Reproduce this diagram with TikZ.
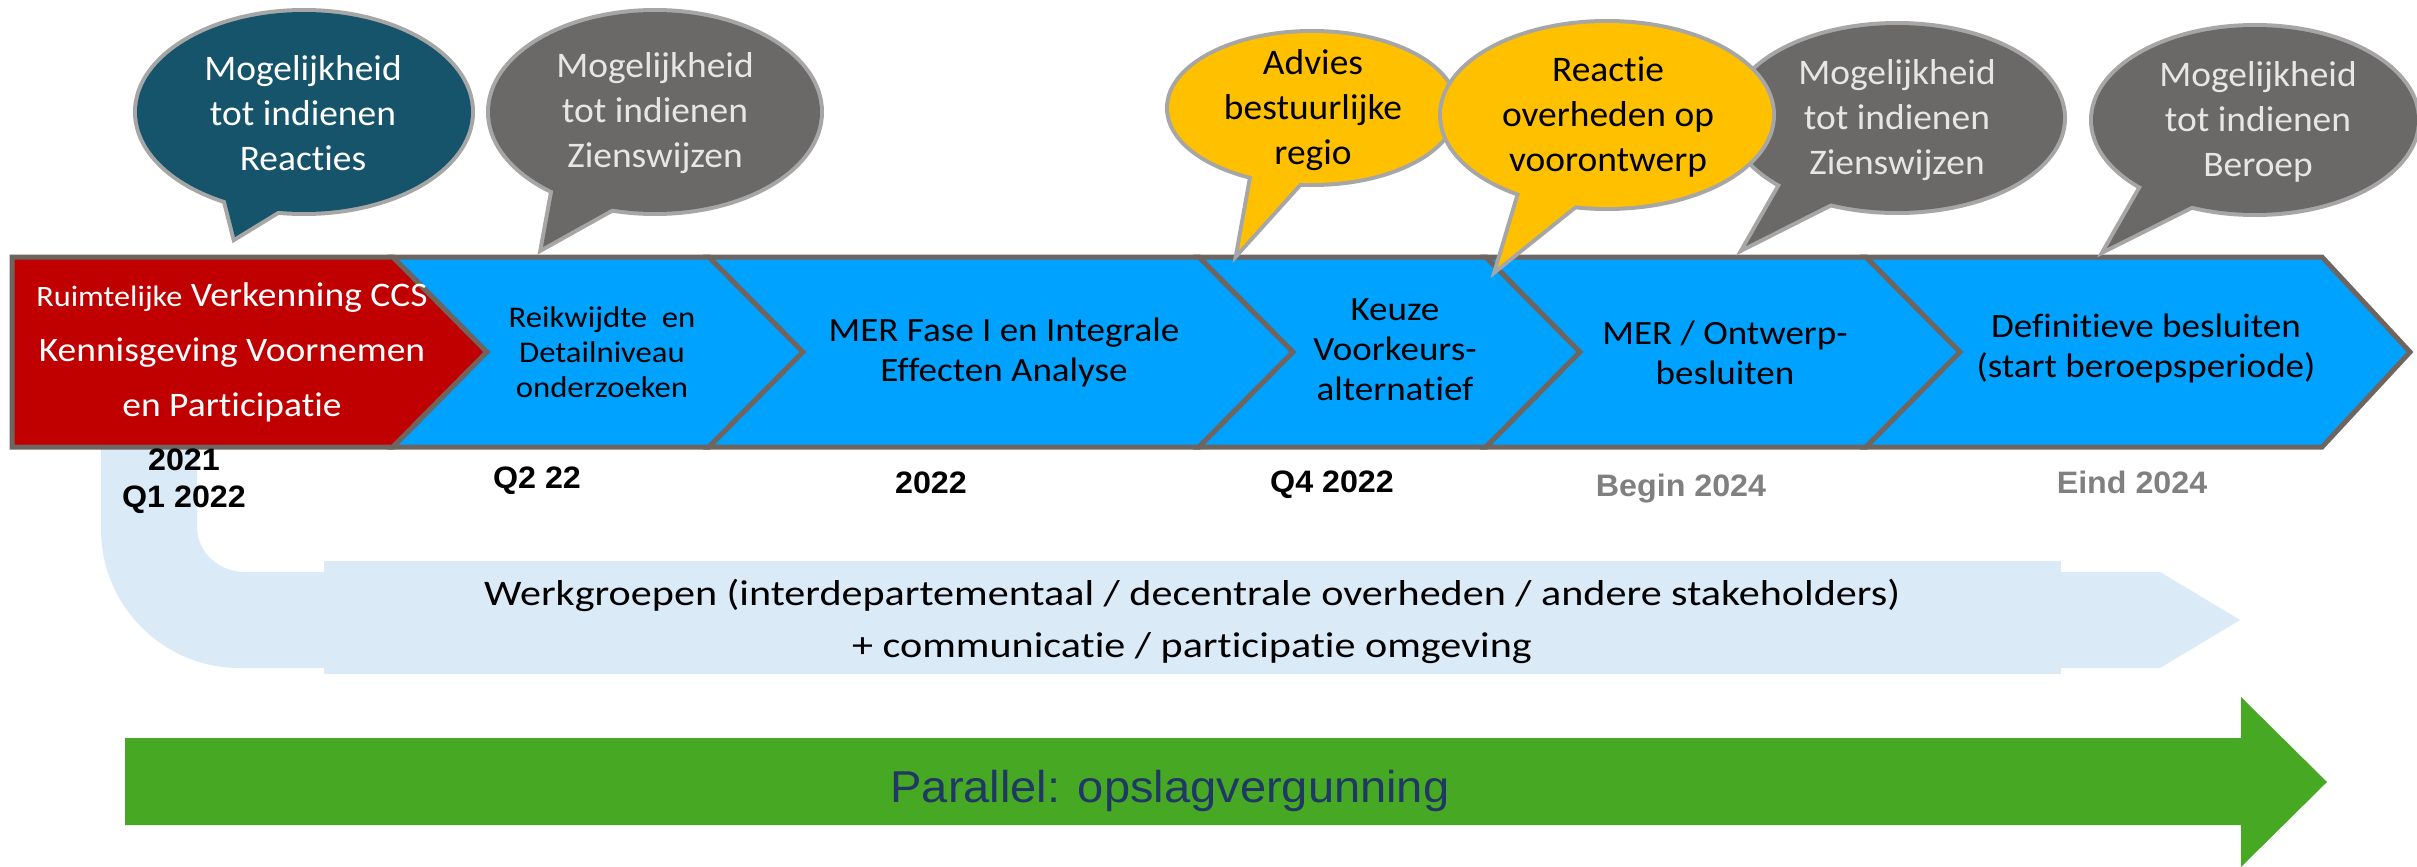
\documentclass[tikz,border=0pt]{standalone}
\usepackage{fontspec}
\setmainfont{Carlito}[Ligatures=NoCommon]
\newfontfamily\bubf{Carlito}[Ligatures=NoCommon, FakeStretch=1.04]
\newfontfamily\chf{Carlito}[Ligatures=NoCommon, FakeStretch=1.09]
\newfontfamily\wgf{Carlito}[Ligatures=NoCommon, FakeStretch=1.17]
\newfontfamily\arialf{Liberation Sans}[FakeStretch=1.04]
\newfontfamily\arialw{Liberation Sans}[FakeStretch=1.055]
\definecolor{cred}{HTML}{C00000}
\definecolor{cblue}{HTML}{00A2FF}
\definecolor{cborder}{HTML}{6F6560}
\definecolor{cteal}{HTML}{15546B}
\definecolor{cgray}{HTML}{6B6968}
\definecolor{cyellow}{HTML}{FFC000}
\definecolor{cbout}{HTML}{A6A6A6}
\definecolor{clight}{HTML}{DAEAF6}
\definecolor{cgreen}{HTML}{47A923}
\definecolor{cnavy}{HTML}{203864}
\definecolor{cdate}{HTML}{808080}
\definecolor{cbtext}{HTML}{E6E6E6}
\begin{document}
\begin{tikzpicture}[x=0.5pt,y=-0.5pt,
  chev/.style={draw=cborder, line width=2.5pt, line join=miter},
  bubline/.style={draw=cbout, line width=4pt},
  btext/.style={align=center, font=\bubf\fontsize{18}{22.5}\selectfont, inner sep=0pt},
  ctext/.style={align=center, inner sep=0pt},
  datelbl/.style={align=center, font=\arialf\bfseries\fontsize{15.5}{18.5}\selectfont, inner sep=0pt}]
\useasboundingbox (0,0) rectangle (2417,867);
\fill[white] (0,0) rectangle (2417,867);

% light blue bent arrow
\fill[clight] (101,447) -- (197,447) -- (197,527) .. controls (197,552) and (218.5,572) .. (245,572)
  -- (2160,572) -- (2240,620) -- (2160,668) -- (240,668) .. controls (163,668) and (101,606) .. (101,529) -- cycle;
\fill[clight] (324,561) rectangle (2061,674);
\node[ctext, font=\wgf\fontsize{18}{26}\selectfont] (wg) at (1192,621)
  {Werkgroepen (interdepartementaal / decentrale overheden / andere stakeholders)\\+ communicatie / participatie omgeving};

% green arrow
\fill[cgreen] (125,738) -- (2241,738) -- (2241,697) -- (2327,782) -- (2241,867) -- (2241,825) -- (125,825) -- cycle;
\node[inner sep=0pt, font=\arialw\fontsize{22.3}{27}\selectfont, text=cnavy] (par) at (1170,791) {Parallel: opslagvergunning};

% chevrons
\draw[chev, fill=cred] (12,257) -- (393,257) -- (487,352) -- (393,447) -- (12,447) -- cycle;
\draw[chev, fill=cblue] (393,257) -- (709,257) -- (803,352) -- (709,447) -- (393,447) -- (487,352) -- cycle;
\draw[chev, fill=cblue] (709,257) -- (1199,257) -- (1293,352) -- (1199,447) -- (709,447) -- (803,352) -- cycle;
\draw[chev, fill=cblue] (1199,257) -- (1486,257) -- (1580,352) -- (1486,447) -- (1199,447) -- (1293,352) -- cycle;
\draw[chev, fill=cblue] (1486,257) -- (1866,257) -- (1960,352) -- (1866,447) -- (1486,447) -- (1580,352) -- cycle;
\draw[chev, fill=cblue] (1866,257) -- (2322,257) -- (2410,352) -- (2322,447) -- (1866,447) -- (1960,352) -- cycle;

\node[ctext, text=white, font=\chf\fontsize{17.2}{27.5}\selectfont] (c0) at (232,352)
  {{\fontsize{14.8}{27.5}\selectfont Ruimtelijke} Verkenning CCS\\Kennisgeving Voornemen\\en Participatie};
\node[ctext, font=\chf\fontsize{15}{17.5}\selectfont] (c1) at (602,352) {Reikwijdte \ en\\Detailniveau\\onderzoeken};
\node[ctext, font=\chf\fontsize{17}{20}\selectfont] (c2) at (1004,352) {MER Fase I en Integrale\\Effecten Analyse};
\node[ctext, font=\chf\fontsize{17}{20}\selectfont] (c3) at (1395,350) {Keuze\\Voorkeurs-\\alternatief};
\node[ctext, font=\chf\fontsize{17}{20}\selectfont] (c4) at (1725,353) {MER / Ontwerp-\\besluiten};
\node[ctext, font=\chf\fontsize{17}{20}\selectfont] (c5) at (2146,348) {Definitieve besluiten\\(start beroepsperiode)};

% dates
\node[datelbl] (d1) at (184,481) {2021\\Q1 2022};
\node[datelbl] (d2) at (537,481) {Q2 22};
\node[datelbl] (d3) at (931,483) {2022};
\node[datelbl] (d4) at (1332,485) {Q4 2022};
\node[datelbl, text=cdate] (d5) at (1681,489) {Begin 2024};
\node[datelbl, text=cdate] (d6) at (2132,482) {Eind 2024};

% bubble 1
\draw[bubline] (304,112) ellipse [x radius=167, y radius=100];
\draw[bubline] (221,182) -- (235,237) -- (302,196) -- cycle;
\fill[cteal] (304,112) ellipse [x radius=167, y radius=100];
\fill[cteal] (221,182) -- (235,237) -- (302,196) -- cycle;
\node[btext, text=white] (b1) at (303,113) {Mogelijkheid\\tot indienen\\Reacties};
% bubble 2
\draw[bubline] (655,112) ellipse [x radius=165, y radius=100];
\draw[bubline] (556,176) -- (543,247) -- (629,199) -- cycle;
\fill[cgray] (655,112) ellipse [x radius=165, y radius=100];
\fill[cgray] (556,176) -- (543,247) -- (629,199) -- cycle;
\node[btext, text=cbtext] (b2) at (655,113) {Mogelijkheid\\tot indienen\\Zienswijzen};
% bubble 3 (Advies)
\draw[bubline] (1312,108) ellipse [x radius=143, y radius=75];
\draw[bubline] (1257,150) -- (1239,250) -- (1321,159) -- cycle;
\fill[cyellow] (1312,108) ellipse [x radius=143, y radius=75];
\fill[cyellow] (1257,150) -- (1239,250) -- (1321,159) -- cycle;
\node[btext] (b3) at (1313,110) {Advies\\bestuurlijke\\regio};
% bubble 5 (gray Zienswijzen)
\draw[bubline] (1897,118) ellipse [x radius=166, y radius=93];
\draw[bubline] (1793,164) -- (1746,246) -- (1859,189) -- cycle;
\fill[cgray] (1897,118) ellipse [x radius=166, y radius=93];
\fill[cgray] (1793,164) -- (1746,246) -- (1859,189) -- cycle;
\node[btext, text=cbtext] (b5) at (1897,120) {Mogelijkheid\\tot indienen\\Zienswijzen};
% bubble 4 (Reactie)
\draw[bubline] (1607,115) ellipse [x radius=165, y radius=92];
\draw[bubline] (1527,170) -- (1498,267) -- (1600,185) -- cycle;
\fill[cyellow] (1607,115) ellipse [x radius=165, y radius=92];
\fill[cyellow] (1527,170) -- (1498,267) -- (1600,185) -- cycle;
\node[btext] (b4) at (1608,117) {Reactie\\overheden op\\voorontwerp};
% bubble 6 (Beroep)
\draw[bubline] (2255,120) ellipse [x radius=162, y radius=93];
\draw[bubline] (2155,164) -- (2107,248) -- (2223,190) -- cycle;
\fill[cgray] (2255,120) ellipse [x radius=162, y radius=93];
\fill[cgray] (2155,164) -- (2107,248) -- (2223,190) -- cycle;
\node[btext, text=cbtext] (b6) at (2258,122) {Mogelijkheid\\tot indienen\\Beroep};
\end{tikzpicture}
\end{document}
